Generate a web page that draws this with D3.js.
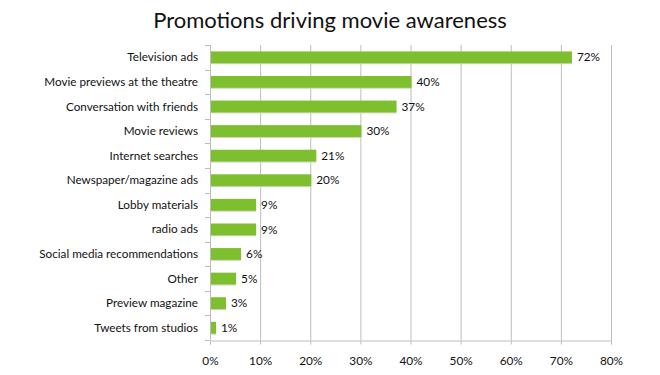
<!DOCTYPE html>
<html>
<head>
<meta charset="utf-8">
<script src="https://cdn.jsdelivr.net/npm/d3@7"></script>
<style>
  body { margin: 0; background: #fff; }
  text { font-family: Lato, sans-serif; fill: #111; }
</style>
</head>
<body>
<svg id="chart" width="660" height="375"></svg>
<script>
/*global d3*/

// data
var categories = ["Television ads", "Movie previews at the theatre", "Conversation with friends",
  "Movie reviews", "Internet searches", "Newspaper/magazine ads", "Lobby materials", "radio ads",
  "Social media recommendations", "Other", "Preview magazine", "Tweets from studios"];
var values = [72, 40, 37, 30, 21, 20, 9, 9, 6, 5, 3, 1];
var xTicks = [0, 10, 20, 30, 40, 50, 60, 70, 80];

var margin = {top: 45, right: 49, bottom: 35, left: 210};
var svg = d3.select("#chart"),
    width = +svg.attr("width"),
    height = +svg.attr("height");

var x = d3.scaleLinear()
    .domain([0, 80])
    .range([margin.left, width - margin.right]);

var y = d3.scaleBand()
    .domain(categories)
    .range([margin.top, height - margin.bottom])
    .paddingInner(0.52)
    .paddingOuter(0.26);

// title
svg.append("text")
    .attr("x", 330)
    .attr("y", 28)
    .attr("text-anchor", "middle")
    .style("font-size", "22px")
    .text("Promotions driving movie awareness");

// vertical gridlines
svg.append("g")
    .selectAll("line")
    .data(xTicks.slice(1))
    .join("line")
    .attr("x1", d => x(d) + 0.5)
    .attr("x2", d => x(d) + 0.5)
    .attr("y1", margin.top)
    .attr("y2", height - margin.bottom)
    .attr("stroke", "#bdbdbd")
    .attr("stroke-width", 1);

// bottom axis
var xAxis = svg.append("g")
    .attr("transform", `translate(0,${height - margin.bottom + 0.5})`)
    .call(d3.axisBottom(x).tickValues(xTicks).tickSize(4).tickFormat(d => d + "%"));
xAxis.select(".domain").attr("stroke", "#bdbdbd");
xAxis.selectAll(".tick line").attr("stroke", "#bdbdbd");
xAxis.selectAll("text")
    .attr("dy", 0)
    .attr("y", 24)
    .style("font-family", "Lato, sans-serif")
    .style("font-size", "11.8px")
    .style("fill", "#111");

// left axis with ticks between categories
var yAxisG = svg.append("g");
yAxisG.append("line")
    .attr("x1", margin.left + 0.5).attr("x2", margin.left + 0.5)
    .attr("y1", margin.top).attr("y2", height - margin.bottom)
    .attr("stroke", "#bdbdbd");
var step = y.step();
yAxisG.selectAll(".sep")
    .data(d3.range(categories.length + 1))
    .join("line")
    .attr("class", "sep")
    .attr("x1", margin.left - 5)
    .attr("x2", margin.left)
    .attr("y1", i => Math.round(margin.top + i * step) + 0.5)
    .attr("y2", i => Math.round(margin.top + i * step) + 0.5)
    .attr("stroke", "#bdbdbd");

yAxisG.selectAll(".cat")
    .data(categories)
    .join("text")
    .attr("class", "cat")
    .attr("x", margin.left - 12)
    .attr("y", d => y(d) + y.bandwidth() / 2)
    .attr("dy", "0.35em")
    .attr("text-anchor", "end")
    .style("font-size", "11.7px")
    .text(d => d);

// bars
var bars = svg.append("g");
bars.selectAll("rect.shadow")
    .data(values)
    .join("rect")
    .attr("class", "shadow")
    .attr("x", x(0) + 1)
    .attr("y", (d, i) => y(categories[i]) + 1)
    .attr("width", d => x(d) - x(0))
    .attr("height", y.bandwidth())
    .attr("fill", "#c9d9b8");
bars.selectAll("rect.bar")
    .data(values)
    .join("rect")
    .attr("class", "bar")
    .attr("x", x(0) + 1)
    .attr("y", (d, i) => y(categories[i]))
    .attr("width", d => x(d) - x(0))
    .attr("height", y.bandwidth())
    .attr("fill", "#7dbf2e");

// value labels
svg.append("g")
    .selectAll("text")
    .data(values)
    .join("text")
    .attr("x", d => x(d) + 6)
    .attr("y", (d, i) => y(categories[i]) + y.bandwidth() / 2)
    .attr("dy", "0.35em")
    .style("font-size", "11.8px")
    .text(d => d + "%");
</script>
</body>
</html>
